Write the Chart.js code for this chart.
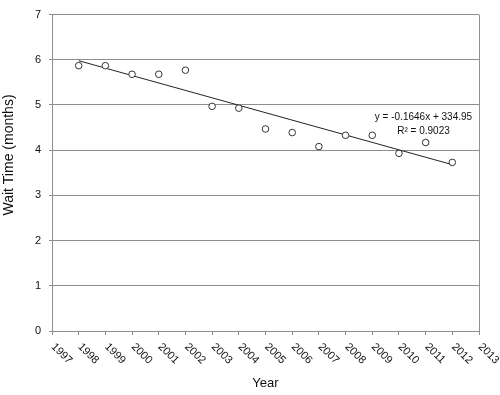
<!DOCTYPE html>
<html>
<head>
<meta charset="utf-8">
<script src="https://cdn.jsdelivr.net/npm/chart.js@4.4.1/dist/chart.umd.min.js"></script>
<style>
    html, body { margin: 0; padding: 0; background: #fff; }
    #wrap { width: 500px; height: 395px; }
</style>
</head>
<body>
<div id="wrap"><canvas id="chart" width="500" height="395"></canvas></div>
<script>
// data
const years = [1998, 1999, 2000, 2001, 2002, 2003, 2004, 2005, 2006, 2007, 2008, 2009, 2010, 2011, 2012];
const waitTimes = [5.87, 5.87, 5.68, 5.68, 5.77, 4.97, 4.93, 4.47, 4.39, 4.08, 4.33, 4.33, 3.93, 4.17, 3.73];
const trendYears = [1998, 2012];
const trendValues = [5.98, 3.68];
const yearTicks = ['1997', '1998', '1999', '2000', '2001', '2002', '2003', '2004', '2005',
    '2006', '2007', '2008', '2009', '2010', '2011', '2012', '2013'];
const equationLines = ['y = -0.1646x + 334.95', 'R² = 0.9023'];

const FONT = '"Liberation Sans", Arial, sans-serif';
const GRID = '#8e8e8e';

// rotated year labels, axis titles, frame and trend equation
const extras = {
    id: 'extras',
    afterDraw(chart) {
        const ctx = chart.ctx;
        const area = chart.chartArea;
        const x = chart.scales.x;
        const y = chart.scales.y;
        ctx.save();

        // right border of the plot area
        ctx.strokeStyle = GRID;
        ctx.lineWidth = 1;
        ctx.beginPath();
        ctx.moveTo(Math.round(area.right) + 0.5, area.top);
        ctx.lineTo(Math.round(area.right) + 0.5, area.bottom);
        ctx.stroke();

        ctx.fillStyle = '#111';
        ctx.font = '11px ' + FONT;
        ctx.textAlign = 'left';
        ctx.textBaseline = 'middle';
        yearTicks.forEach(lbl => {
            const px = x.getPixelForValue(Number(lbl));
            ctx.save();
            ctx.translate(px + 1, area.bottom + 14);
            ctx.rotate(Math.PI / 4);
            ctx.fillText(lbl, 0, 0);
            ctx.restore();
        });

        ctx.font = '13px ' + FONT;
        ctx.textAlign = 'center';
        ctx.fillText('Year', (area.left + area.right) / 2, 383);

        ctx.font = '14px ' + FONT;
        ctx.save();
        ctx.translate(9.5, 155);
        ctx.rotate(-Math.PI / 2);
        ctx.fillText('Wait Time (months)', 0, 0);
        ctx.restore();

        ctx.font = '10px ' + FONT;
        const ex = x.getPixelForValue(2010.92);
        ctx.fillText(equationLines[0], ex, y.getPixelForValue(4.73));
        ctx.fillText(equationLines[1], ex, y.getPixelForValue(4.43));

        ctx.restore();
    }
};

new Chart(document.getElementById('chart'), {
    type: 'scatter',
    data: {
        datasets: [
            {
                label: 'Trend',
                data: trendYears.map((yr, i) => ({ x: yr, y: trendValues[i] })),
                showLine: true,
                borderColor: '#222',
                borderWidth: 1,
                pointRadius: 0,
                order: 2
            },
            {
                label: 'Wait time',
                data: years.map((yr, i) => ({ x: yr, y: waitTimes[i] })),
                pointRadius: 3.3,
                pointBorderWidth: 1,
                pointBorderColor: '#333',
                pointBackgroundColor: '#fff',
                order: 1
            }
        ]
    },
    options: {
        responsive: false,
        animation: false,
        layout: { padding: { top: 12, right: 21, left: 0, bottom: 0 } },
        plugins: {
            legend: { display: false },
            tooltip: { enabled: false }
        },
        scales: {
            x: {
                type: 'linear',
                min: 1997,
                max: 2013,
                ticks: { stepSize: 1, display: false },
                grid: { drawOnChartArea: false, drawTicks: true, tickLength: 4, color: GRID },
                border: { color: GRID },
                afterFit(scale) { scale.height = 64; }
            },
            y: {
                min: 0,
                max: 7,
                ticks: {
                    stepSize: 1,
                    padding: 8,
                    color: '#111',
                    font: { family: FONT, size: 11 }
                },
                grid: { color: GRID, tickLength: 3 },
                border: { color: GRID },
                afterFit(scale) { scale.width = 52; }
            }
        }
    },
    plugins: [extras]
});
</script>
</body>
</html>
